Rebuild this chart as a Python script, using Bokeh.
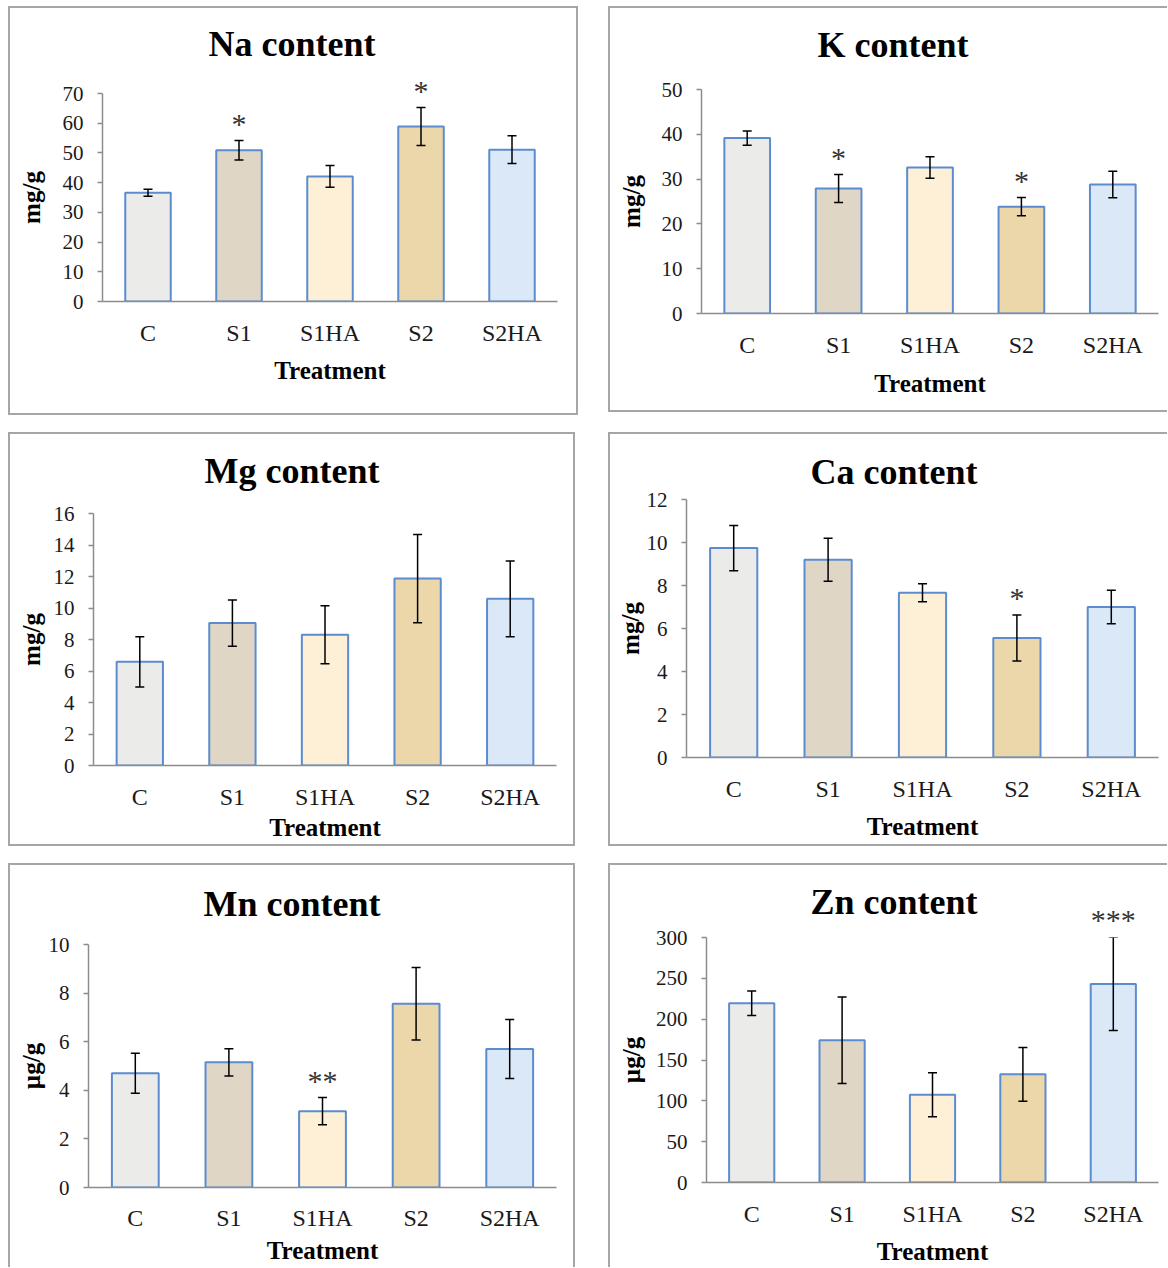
from bokeh.plotting import figure
from bokeh.layouts import column, row
from bokeh.models import (ColumnDataSource, Whisker, TeeHead, FixedTicker, Range1d,
                          FactorRange, Spacer, Title, CategoricalAxis)
from bokeh.embed import file_html
from bokeh.resources import INLINE
from bokeh.core.properties import value

FONT = "Liberation Serif"

# ---------------- data ----------------
treatments = ["C", "S1", "S1HA", "S2", "S2HA"]
bar_colors = ["#ebebea", "#e0d6c6", "#fdf0d6", "#ecd7ab", "#dae8f8"]

na_mean = [36.6, 50.9, 42.1, 58.9, 51.1]
na_err = [1.2, 3.3, 3.65, 6.4, 4.65]
na_stars = ["", "*", "", "*", ""]
na_ticks = [0, 10, 20, 30, 40, 50, 60, 70]

k_mean = [39.15, 27.9, 32.6, 23.85, 28.8]
k_err = [1.6, 3.1, 2.4, 2.05, 2.95]
k_stars = ["", "*", "", "*", ""]
k_ticks = [0, 10, 20, 30, 40, 50]

mg_mean = [6.58, 9.04, 8.3, 11.87, 10.58]
mg_err = [1.6, 1.47, 1.84, 2.8, 2.4]
mg_stars = ["", "", "", "", ""]
mg_ticks = [0, 2, 4, 6, 8, 10, 12, 14, 16]

ca_mean = [9.74, 9.2, 7.66, 5.56, 7.0]
ca_err = [1.05, 1.0, 0.42, 1.07, 0.78]
ca_stars = ["", "", "", "*", ""]
ca_ticks = [0, 2, 4, 6, 8, 10, 12]

mn_mean = [4.7, 5.15, 3.14, 7.56, 5.7]
mn_err = [0.82, 0.56, 0.56, 1.49, 1.21]
mn_stars = ["", "", "**", "", ""]
mn_ticks = [0, 2, 4, 6, 8, 10]

zn_mean = [219.5, 174.1, 107.5, 132.4, 243.2]
zn_err = [15, 53, 27, 33, 57]
zn_stars = ["", "", "", "", "***"]
zn_ticks = [0, 50, 100, 150, 200, 250, 300]

BORDER = "#a6a6a6"


def border_style(sides):
    parts = []
    if "l" in sides:
        parts.append(f"inset 2px 0 0 0 {BORDER}")
    if "r" in sides:
        parts.append(f"inset -2px 0 0 0 {BORDER}")
    if "t" in sides:
        parts.append(f"inset 0 2px 0 0 {BORDER}")
    if "b" in sides:
        parts.append(f"inset 0 -2px 0 0 {BORDER}")
    return {"box-shadow": ", ".join(parts)}


def make_panel(title, ylabel, means, errs, stars, ticks, g):
    left, top, W, H = g["left"], g["top"], g["W"], g["H"]
    fl, fr, ft, fb = g["fl"], g["fr"], g["ft"], g["fb"]
    ymax = ticks[-1]
    p = figure(width=W, height=H,
               x_range=FactorRange(factors=treatments, range_padding=0),
               y_range=Range1d(ticks[0], ymax),
               output_backend="svg", toolbar_location=None,
               min_border_left=int(round(fl - left)),
               min_border_right=int(round(left + W - fr)),
               min_border_top=int(round(ft - top)),
               min_border_bottom=int(round(top + H - fb)),
               styles=border_style(g["sides"]))
    p.border_fill_color = None
    p.background_fill_color = None
    p.outline_line_color = None
    p.xgrid.grid_line_color = None
    p.ygrid.grid_line_color = None
    bx = p.below[0]
    ax = p.left[0]

    src = ColumnDataSource(dict(
        x=treatments, top=means,
        upper=[m + e for m, e in zip(means, errs)],
        lower=[m - e for m, e in zip(means, errs)],
        color=bar_colors))
    p.vbar(x="x", top="top", width=0.5, source=src, fill_color="color",
           line_color="#5b8ccf", line_width=2)

    w = Whisker(base="x", upper="upper", lower="lower", source=src,
                line_color="black", line_width=1.5, level="annotation",
                upper_head=TeeHead(size=9, line_color="black", line_width=1.5),
                lower_head=TeeHead(size=9, line_color="black", line_width=1.5))
    p.add_layout(w)

    # significance marks: inside the frame, or just above it for the tallest bars
    tops = [m + e for m, e in zip(means, errs)]
    high = [bool(s) and t > 0.9 * ymax for s, t in zip(stars, tops)]
    sx = [c for c, s, h in zip(treatments, stars, high) if s and not h]
    sy = [t for t, s, h in zip(tops, stars, high) if s and not h]
    st = [s for s, h in zip(stars, high) if s and not h]
    if st:
        ssrc = ColumnDataSource(dict(x=sx, y=sy, t=st))
        p.text(x="x", y="y", text="t", source=ssrc, text_font=value(FONT),
               text_font_size="30px", text_color="#333333", text_align="center",
               text_baseline="alphabetic", y_offset=-17)

    p.title.text = title
    p.title.text_font = FONT
    p.title.text_font_size = "36px"
    p.title.text_font_style = "bold"
    p.title.text_color = "black"
    p.title.align = "left"
    p.title.offset = g["tleft"] - fl
    p.title.vertical_align = "bottom"

    if any(high):
        # a parallel categorical range whose factor at each treatment's slot is the
        # mark shown above that bar (blank slots use distinct blank factors)
        marks = [s if h else " " * (i + 1) for i, (s, h) in enumerate(zip(stars, high))]
        p.extra_x_ranges = {"marks": FactorRange(factors=marks, range_padding=0)}
        sa = CategoricalAxis(x_range_name="marks")
        sa.axis_line_color = None
        sa.major_tick_line_color = None
        sa.minor_tick_line_color = None
        sa.major_tick_out = 0
        sa.major_tick_in = 0
        sa.major_label_text_font = FONT
        sa.major_label_text_font_size = "30px"
        sa.major_label_text_color = "#333333"
        sa.major_label_standoff = g["sstand"]
        p.add_layout(sa, "above")
        p.title.standoff = g["tstand"]
    else:
        gap = ft - (g["tbase"] + 7.8)
        p.title.standoff = 0
        p.add_layout(Title(text=" ", text_font_size="1px",
                           standoff=max(0, gap - 3)), "above")

    ax.ticker = FixedTicker(ticks=ticks)
    ax.axis_line_color = "#8c8c8c"
    ax.axis_line_width = 1.5
    ax.major_tick_line_color = "#8c8c8c"
    ax.major_tick_line_width = 1.5
    ax.major_tick_out = 5
    ax.major_tick_in = 0
    ax.minor_tick_line_color = None
    ax.major_label_text_font = FONT
    ax.major_label_text_font_size = "21px"
    ax.major_label_text_color = "#1a1a1a"
    ax.major_label_standoff = 14
    ax.axis_label = ylabel
    ax.axis_label_text_font = FONT
    ax.axis_label_text_font_size = "25px"
    ax.axis_label_text_font_style = "bold"
    ax.axis_label_text_color = "black"
    ax.axis_label_standoff = g["ylab"]

    bx.axis_line_color = "#8c8c8c"
    bx.axis_line_width = 1.5
    bx.major_tick_line_color = None
    bx.major_tick_out = 0
    bx.major_tick_in = 0
    bx.minor_tick_line_color = None
    bx.major_label_text_font = FONT
    bx.major_label_text_font_size = "24px"
    bx.major_label_text_color = "#1a1a1a"
    bx.major_label_standoff = g.get("xstand", 18)
    bx.axis_label = "Treatment"
    bx.axis_label_text_font = FONT
    bx.axis_label_text_font_size = "25px"
    bx.axis_label_text_font_style = "bold"
    bx.axis_label_text_color = "black"
    bx.axis_label_standoff = g["xlab"]
    return p


geoms = {
    "Na": dict(left=8, top=6, W=570, H=409, fl=102, fr=557, ft=93.3, fb=300.7,
               tleft=208, tbase=57.3, ylab=15, xlab=8, sides="lrtb",
               sstand=-13, tstand=14),
    "K": dict(left=608, top=6, W=559, H=406, fl=701, fr=1158, ft=89, fb=313.3,
              tleft=817, tbase=56.7, ylab=14, xlab=9, sides="ltb"),
    "Mg": dict(left=8, top=432, W=567, H=414, fl=93, fr=556, ft=513.3, fb=765.3,
               tleft=204, tbase=482.7, ylab=6, xlab=1, sides="lrtb"),
    "Ca": dict(left=608, top=432, W=559, H=414, fl=686, fr=1158, ft=498.7, fb=757,
               tleft=810, tbase=482.7, ylab=0, xlab=8, sides="ltb"),
    "Mn": dict(left=8, top=863, W=567, H=404, fl=88, fr=556, ft=944, fb=1187.3,
               tleft=203, tbase=915, ylab=1, xlab=3, xstand=17, sides="lrt"),
    "Zn": dict(left=608, top=863, W=559, H=404, fl=706, fr=1158, ft=937.3, fb=1182,
               tleft=810, tbase=915, ylab=8, xlab=8, sides="lt",
               sstand=2, tstand=-45),
}

p_na = make_panel("Na content", "mg/g", na_mean, na_err, na_stars, na_ticks, geoms["Na"])
p_k = make_panel("K content", "mg/g", k_mean, k_err, k_stars, k_ticks, geoms["K"])
p_mg = make_panel("Mg content", "mg/g", mg_mean, mg_err, mg_stars, mg_ticks, geoms["Mg"])
p_ca = make_panel("Ca content", "mg/g", ca_mean, ca_err, ca_stars, ca_ticks, geoms["Ca"])
p_mn = make_panel("Mn content", "µg/g", mn_mean, mn_err, mn_stars, mn_ticks, geoms["Mn"])
p_zn = make_panel("Zn content", "µg/g", zn_mean, zn_err, zn_stars, zn_ticks, geoms["Zn"])

layout = column(
    Spacer(height=6),
    row(Spacer(width=8), column(p_na), Spacer(width=30), column(p_k)),
    Spacer(height=17),
    row(Spacer(width=8), column(p_mg), Spacer(width=33), column(p_ca)),
    Spacer(height=17),
    row(Spacer(width=8), column(p_mn), Spacer(width=33), column(p_zn)),
)

open("out.html", "w").write(file_html(layout, INLINE))
